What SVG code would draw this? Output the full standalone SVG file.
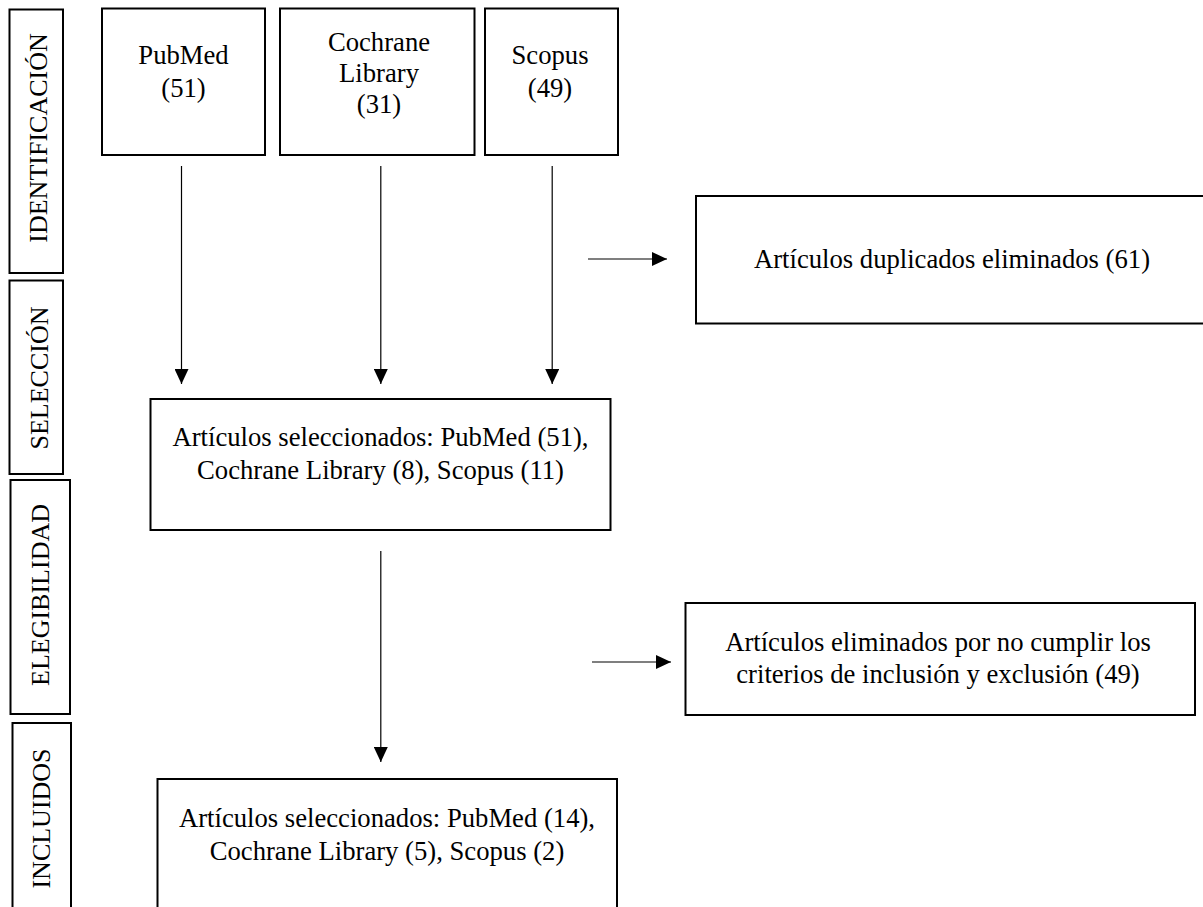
<svg xmlns="http://www.w3.org/2000/svg" width="1203" height="907" viewBox="0 0 1203 907">
<style>
.box{fill:#fff;stroke:#000;stroke-width:2}
.t{font-family:"Liberation Serif","Times New Roman",serif;font-size:26.67px;fill:#000;text-anchor:middle}
.lbl{font-family:"Liberation Serif","Times New Roman",serif;font-size:26px;fill:#000;text-anchor:middle}
.c{stroke:#000;stroke-width:1.2;fill:none}
</style>
<defs>
<marker id="ah" markerUnits="userSpaceOnUse" markerWidth="16" markerHeight="14" refX="15" refY="7" orient="auto">
<path d="M0,0 L15,7 L0,14 Z" fill="#000"/>
</marker>
</defs>
<rect width="1203" height="907" fill="#fff"/>
<g id="phase-identificacion">
<rect class="box" x="9.5" y="9.5" width="53.5" height="263.5"/>
<text class="lbl" transform="translate(46.5,138) rotate(-90)">IDENTIFICACIÓN</text>
</g>
<g id="phase-seleccion">
<rect class="box" x="9.5" y="280.5" width="53.5" height="193.5"/>
<text class="lbl" transform="translate(47.5,378) rotate(-90)">SELECCIÓN</text>
</g>
<g id="phase-elegibilidad">
<rect class="box" x="10.5" y="480" width="59.5" height="234"/>
<text class="lbl" transform="translate(49,595) rotate(-90)">ELEGIBILIDAD</text>
</g>
<g id="phase-incluidos">
<rect class="box" x="12.5" y="723" width="58.5" height="200"/>
<text class="lbl" transform="translate(50,818.5) rotate(-90)">INCLUIDOS</text>
</g>
<g id="pubmed">
<rect class="box" x="102" y="8.5" width="163" height="146.5"/>
<text class="t" x="183.5" y="64">PubMed</text>
<text class="t" x="183.5" y="96.5">(51)</text>
</g>
<g id="cochrane">
<rect class="box" x="280" y="8.5" width="194.5" height="146.5"/>
<text class="t" x="379" y="51">Cochrane</text>
<text class="t" x="379" y="82">Library</text>
<text class="t" x="379" y="113">(31)</text>
</g>
<g id="scopus">
<rect class="box" x="485" y="8.5" width="133" height="146.5"/>
<text class="t" x="550" y="64">Scopus</text>
<text class="t" x="550" y="96.5">(49)</text>
</g>
<g id="duplicados">
<rect class="box" x="696" y="196" width="510" height="127.5"/>
<text class="t" x="952" y="268">Artículos duplicados eliminados (61)</text>
</g>
<g id="seleccionados-1">
<rect class="box" x="150.5" y="399" width="460" height="131"/>
<text class="t" x="380.5" y="446">Artículos seleccionados: PubMed (51),</text>
<text class="t" x="380.5" y="479">Cochrane Library (8), Scopus (11)</text>
</g>
<g id="eliminados">
<rect class="box" x="685.5" y="603" width="509.5" height="112"/>
<text class="t" x="938" y="651">Artículos eliminados por no cumplir los</text>
<text class="t" x="938" y="683">criterios de inclusión y exclusión (49)</text>
</g>
<g id="seleccionados-2">
<rect class="box" x="157.5" y="779" width="459.5" height="140"/>
<text class="t" x="387" y="827">Artículos seleccionados: PubMed (14),</text>
<text class="t" x="387" y="860">Cochrane Library (5), Scopus (2)</text>
</g>
<g id="connectors">
<line class="c" x1="181.5" y1="166" x2="181.5" y2="384" marker-end="url(#ah)"/>
<line class="c" x1="380.8" y1="166" x2="380.8" y2="384" marker-end="url(#ah)"/>
<line class="c" x1="552.2" y1="166" x2="552.2" y2="384" marker-end="url(#ah)"/>
<line class="c" x1="380.8" y1="551" x2="380.8" y2="762" marker-end="url(#ah)"/>
<line class="c" x1="588" y1="259" x2="667" y2="259" marker-end="url(#ah)"/>
<line class="c" x1="592" y1="662" x2="671" y2="662" marker-end="url(#ah)"/>
</g>
</svg>
